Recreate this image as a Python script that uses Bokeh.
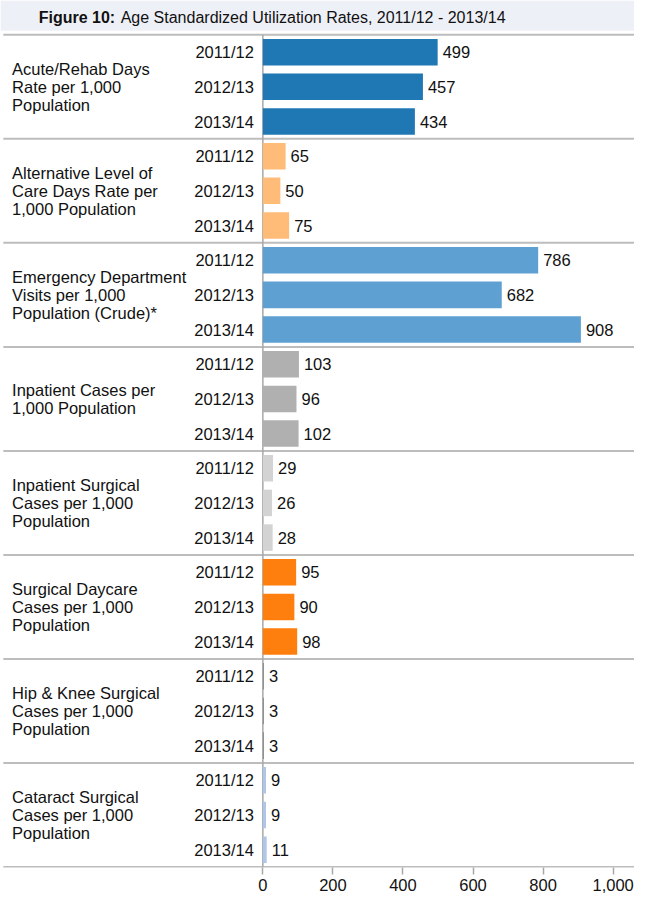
from bokeh.plotting import figure
from bokeh.models import Range1d, FixedTicker, NumeralTickFormatter, ColumnDataSource, BoxAnnotation, Label
from bokeh.core.properties import value
from bokeh.embed import file_html
from bokeh.resources import INLINE

# ---------------- data ----------------
categories = [
    "Acute/Rehab Days\nRate per 1,000\nPopulation",
    "Alternative Level of\nCare Days Rate per\n1,000 Population",
    "Emergency Department\nVisits per 1,000\nPopulation (Crude)*",
    "Inpatient Cases per\n1,000 Population",
    "Inpatient Surgical\nCases per 1,000\nPopulation",
    "Surgical Daycare\nCases per 1,000\nPopulation",
    "Hip & Knee Surgical\nCases per 1,000\nPopulation",
    "Cataract Surgical\nCases per 1,000\nPopulation",
]
years = ["2011/12", "2012/13", "2013/14"]
rate_2011_12 = [499, 65, 786, 103, 29, 95, 3, 9]
rate_2012_13 = [457, 50, 682, 96, 26, 90, 3, 9]
rate_2013_14 = [434, 75, 908, 102, 28, 98, 3, 11]
category_colors = ["#1f77b4", "#ffbb78", "#5fa0d3", "#b0b0b0",
                   "#d3d3d3", "#ff7f0e", "#8c8c8c", "#aec7e8"]
x_ticks = [0, 200, 400, 600, 800, 1000]
title_bold = "Figure 10:"
title_rest = "Age Standardized Utilization Rates, 2011/12 - 2013/14"

# ---------------- build rows ----------------
series = [rate_2011_12, rate_2012_13, rate_2013_14]
ys, vals, cols, ylabs, vlabs = [], [], [], [], []
for g in range(len(categories)):
    for i, yr in enumerate(years):
        ys.append(g + (i + 0.5) / 3)
        v = series[i][g]
        vals.append(v)
        cols.append(category_colors[g])
        ylabs.append(yr)
        vlabs.append(f"{v:,}")
src = ColumnDataSource(dict(y=ys, v=vals, c=cols, yl=ylabs, vl=vlabs))

n = len(categories)
X0, X1 = -749, 1061
FONT = "Liberation Sans"
FS = "16.5px"

p = figure(width=634, height=899, output_backend="svg", toolbar_location=None,
           x_range=Range1d(X0, X1), y_range=Range1d(n + 0.005, -0.33),
           min_border_left=0, min_border_right=0, min_border_top=0, min_border_bottom=32)
p.outline_line_color = None
p.grid.visible = False
p.yaxis.visible = False
p.background_fill_color = "white"

# title band
p.add_layout(BoxAnnotation(top=-0.33, bottom=-0.04, fill_color="#eef0f8", fill_alpha=1,
                           line_color=None, level="underlay"))

# group separators
p.segment(x0=[X0 + 8] * (n + 1), x1=[X1] * (n + 1), y0=list(range(n + 1)), y1=list(range(n + 1)),
          line_color="#bdbdbd", line_width=2)
# zero line
p.segment(x0=[0], x1=[0], y0=[0], y1=[n], line_color="#a8a8a8", line_width=1.5)

# bars
p.hbar(y="y", left=0, right="v", height=0.255, fill_color="c", line_color=None, source=src)

# value labels
p.text(x="v", y="y", text="vl", x_offset=5, text_align="left", text_baseline="middle",
       text_font=value(FONT), text_font_size=FS, text_color="#111111", source=src)
# year labels
p.text(x=0, y="y", text="yl", x_offset=-9, text_align="right", text_baseline="middle",
       text_font=value(FONT), text_font_size=FS, text_color="#111111", source=src)
# group labels
p.text(x=[X0 + 33] * n, y=[g + 0.5 for g in range(n)], text=categories,
       text_align="left", text_baseline="middle", text_line_height=1.0,
       text_font=value(FONT), text_font_size=FS, text_color="#111111")

# title
p.add_layout(Label(x=-640, y=-0.17, text=title_bold, text_font=FONT,
                   text_font_style="bold", text_font_size="16px", text_baseline="middle",
                   text_color="#111111"))
p.add_layout(Label(x=-640, y=-0.17, x_offset=82, text=title_rest, text_font=FONT,
                   text_font_size="16px", text_baseline="middle", text_color="#111111"))

# x axis
ax = p.xaxis[0]
ax.ticker = FixedTicker(ticks=x_ticks)
ax.formatter = NumeralTickFormatter(format="0,0")
ax.axis_line_color = None
ax.major_tick_line_color = "#a8a8a8"
ax.major_tick_line_width = 1.5
ax.major_tick_in = 0
ax.major_tick_out = 7
ax.minor_tick_line_color = None
ax.major_label_standoff = 4
ax.major_label_text_font = FONT
ax.major_label_text_font_size = FS
ax.major_label_text_color = "#111111"

open("out.html", "w").write(file_html(p, INLINE))
